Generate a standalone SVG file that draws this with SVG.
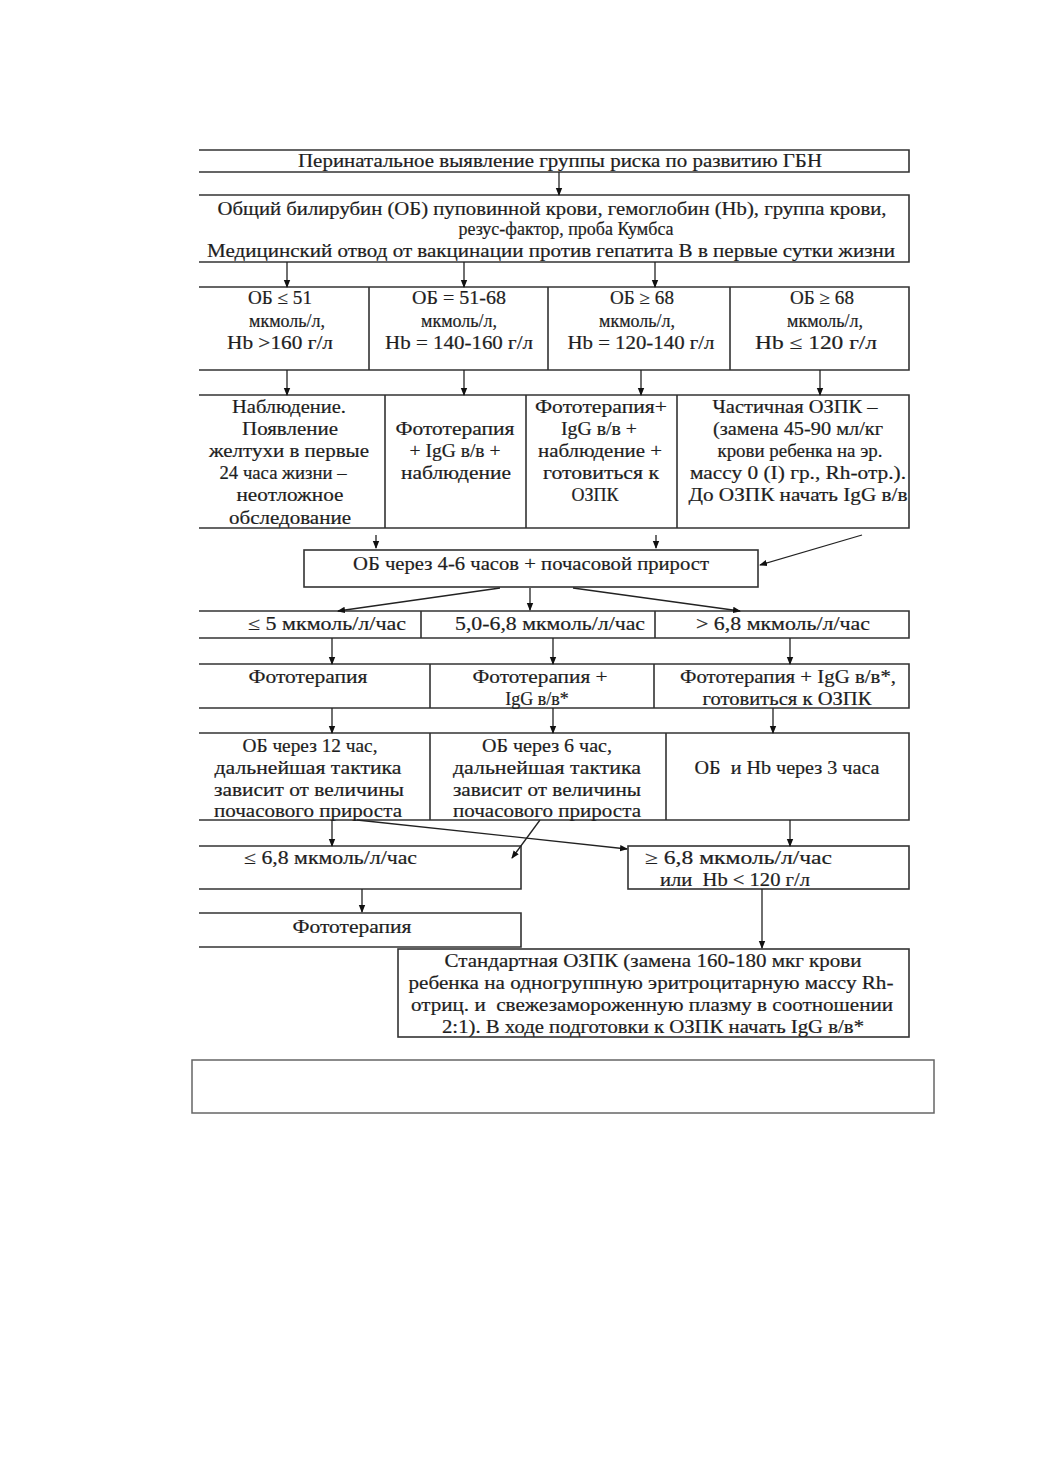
<svg xmlns="http://www.w3.org/2000/svg" width="1041" height="1472" viewBox="0 0 1041 1472">
<style>
.b{fill:none;stroke:#333;stroke-width:1.6}
.t{font-family:"Liberation Serif","DejaVu Serif",serif;font-size:18px;fill:#1e1e1e;stroke:#1e1e1e;stroke-width:0.2;text-anchor:middle;white-space:pre}
.l{text-anchor:start}
.c{fill:none;stroke:#222;stroke-width:1.3}
</style>
<defs>
<marker id="a" markerWidth="8" markerHeight="8" refX="7" refY="4" orient="auto" markerUnits="userSpaceOnUse">
<path d="M0,0.8 L8,4 L0,7.2 Z" fill="#111"/>
</marker>
</defs>
<rect width="1041" height="1472" fill="#fff"/>

<g id="n1">
<path class="b" d="M199,150 H909 V172 H199"/>
<text class="t" x="560" y="167" textLength="524" lengthAdjust="spacingAndGlyphs">Перинатальное выявление группы риска по развитию ГБН</text>
</g>

<g id="n2">
<path class="b" d="M199,195 H909 V262 H199"/>
<text class="t" x="552" y="215" textLength="669" lengthAdjust="spacingAndGlyphs">Общий билирубин (ОБ) пуповинной крови, гемоглобин (Hb), группа крови,</text>
<text class="t" x="566" y="235">резус-фактор, проба Кумбса</text>
<text class="t" x="551" y="257" textLength="688" lengthAdjust="spacingAndGlyphs">Медицинский отвод от вакцинации против гепатита В в первые сутки жизни</text>
</g>

<g id="n3">
<path class="b" d="M199,287 H909 V370 H199 M369,287 V370 M548,287 V370 M730,287 V370"/>
<text class="t" x="280" y="304" textLength="64" lengthAdjust="spacingAndGlyphs">ОБ ≤ 51</text>
<text class="t" x="287" y="327">мкмоль/л,</text>
<text class="t" x="280" y="349" textLength="106" lengthAdjust="spacingAndGlyphs">Hb &gt;160 г/л</text>
<text class="t" x="459" y="304" textLength="94" lengthAdjust="spacingAndGlyphs">ОБ = 51-68</text>
<text class="t" x="459" y="327">мкмоль/л,</text>
<text class="t" x="459" y="349" textLength="148" lengthAdjust="spacingAndGlyphs">Hb = 140-160 г/л</text>
<text class="t" x="642" y="304" textLength="64" lengthAdjust="spacingAndGlyphs">ОБ ≥ 68</text>
<text class="t" x="637" y="327">мкмоль/л,</text>
<text class="t" x="641" y="349" textLength="147" lengthAdjust="spacingAndGlyphs">Hb = 120-140 г/л</text>
<text class="t" x="822" y="304" textLength="64" lengthAdjust="spacingAndGlyphs">ОБ ≥ 68</text>
<text class="t" x="825" y="327">мкмоль/л,</text>
<text class="t" x="816" y="349" textLength="122" lengthAdjust="spacingAndGlyphs">Hb ≤ 120 г/л</text>
</g>

<g id="n4">
<path class="b" d="M199,395 H909 V528 H199 M385,395 V528 M526,395 V528 M677,395 V528"/>
<text class="t" x="289" y="413" textLength="114" lengthAdjust="spacingAndGlyphs">Наблюдение.</text>
<text class="t" x="290" y="435" textLength="96" lengthAdjust="spacingAndGlyphs">Появление</text>
<text class="t" x="289" y="457" textLength="160" lengthAdjust="spacingAndGlyphs">желтухи в первые</text>
<text class="t" x="283" y="479" textLength="127" lengthAdjust="spacingAndGlyphs">24 часа жизни –</text>
<text class="t" x="290" y="501" textLength="107" lengthAdjust="spacingAndGlyphs">неотложное</text>
<text class="t" x="290" y="524" textLength="122" lengthAdjust="spacingAndGlyphs">обследование</text>
<text class="t" x="455" y="435" textLength="119" lengthAdjust="spacingAndGlyphs">Фототерапия</text>
<text class="t" x="455" y="457" textLength="91" lengthAdjust="spacingAndGlyphs">+ IgG в/в +</text>
<text class="t" x="456" y="479" textLength="110" lengthAdjust="spacingAndGlyphs">наблюдение</text>
<text class="t" x="601" y="413" textLength="132" lengthAdjust="spacingAndGlyphs">Фототерапия+</text>
<text class="t" x="599" y="435" textLength="76" lengthAdjust="spacingAndGlyphs">IgG в/в +</text>
<text class="t" x="600" y="457" textLength="124" lengthAdjust="spacingAndGlyphs">наблюдение +</text>
<text class="t" x="601" y="479" textLength="116" lengthAdjust="spacingAndGlyphs">готовиться к</text>
<text class="t" x="595" y="501">ОЗПК</text>
<text class="t" x="795" y="413" textLength="165" lengthAdjust="spacingAndGlyphs">Частичная ОЗПК –</text>
<text class="t" x="798" y="435" textLength="170" lengthAdjust="spacingAndGlyphs">(замена 45-90 мл/кг</text>
<text class="t" x="800" y="457" textLength="165" lengthAdjust="spacingAndGlyphs">крови ребенка на эр.</text>
<text class="t" x="798" y="479" textLength="216" lengthAdjust="spacingAndGlyphs">массу 0 (I) гр., Rh-отр.).</text>
<text class="t" x="798" y="501" textLength="219" lengthAdjust="spacingAndGlyphs">До ОЗПК начать IgG в/в</text>
</g>

<g id="n5">
<rect class="b" x="304" y="550" width="454" height="37"/>
<text class="t" x="531" y="570" textLength="356" lengthAdjust="spacingAndGlyphs">ОБ через 4-6 часов + почасовой прирост</text>
</g>

<g id="n6">
<path class="b" d="M199,611 H909 V638 H199 M421,611 V638 M655,611 V638"/>
<text class="t" x="327" y="630" textLength="158" lengthAdjust="spacingAndGlyphs">≤ 5 мкмоль/л/час</text>
<text class="t" x="550" y="630" textLength="190" lengthAdjust="spacingAndGlyphs">5,0-6,8 мкмоль/л/час</text>
<text class="t" x="783" y="630" textLength="174" lengthAdjust="spacingAndGlyphs">&gt; 6,8 мкмоль/л/час</text>
</g>

<g id="n7">
<path class="b" d="M199,664 H909 V708 H199 M430,664 V708 M654,664 V708"/>
<text class="t" x="308" y="683" textLength="119" lengthAdjust="spacingAndGlyphs">Фототерапия</text>
<text class="t" x="540" y="683" textLength="135" lengthAdjust="spacingAndGlyphs">Фототерапия +</text>
<text class="t" x="537" y="705">IgG в/в*</text>
<text class="t" x="788" y="683" textLength="216" lengthAdjust="spacingAndGlyphs">Фототерапия + IgG в/в*,</text>
<text class="t" x="787" y="705" textLength="169" lengthAdjust="spacingAndGlyphs">готовиться к ОЗПК</text>
</g>

<g id="n8">
<path class="b" d="M199,733 H909 V820 H199 M430,733 V820 M666,733 V820"/>
<text class="t" x="310" y="752" textLength="135" lengthAdjust="spacingAndGlyphs">ОБ через 12 час,</text>
<text class="t" x="308" y="774" textLength="187" lengthAdjust="spacingAndGlyphs">дальнейшая тактика</text>
<text class="t" x="309" y="796" textLength="190" lengthAdjust="spacingAndGlyphs">зависит от величины</text>
<text class="t" x="308" y="817" textLength="188" lengthAdjust="spacingAndGlyphs">почасового прироста</text>
<text class="t" x="547" y="752" textLength="130" lengthAdjust="spacingAndGlyphs">ОБ через 6 час,</text>
<text class="t" x="547" y="774" textLength="188" lengthAdjust="spacingAndGlyphs">дальнейшая тактика</text>
<text class="t" x="547" y="796" textLength="188" lengthAdjust="spacingAndGlyphs">зависит от величины</text>
<text class="t" x="547" y="817" textLength="188" lengthAdjust="spacingAndGlyphs">почасового прироста</text>
<text class="t" x="787" y="774" textLength="185" lengthAdjust="spacingAndGlyphs">ОБ  и Hb через 3 часа</text>
</g>

<g id="n9">
<path class="b" d="M199,846 H521 V889 H199"/>
<text class="t l" x="244" y="864" textLength="173" lengthAdjust="spacingAndGlyphs">≤ 6,8 мкмоль/л/час</text>
</g>

<g id="n10">
<rect class="b" x="628" y="846" width="281" height="43"/>
<text class="t l" x="645" y="864" textLength="187" lengthAdjust="spacingAndGlyphs">≥ 6,8 мкмоль/л/час</text>
<text class="t l" x="660" y="886" textLength="150" lengthAdjust="spacingAndGlyphs">или  Hb &lt; 120 г/л</text>
</g>

<g id="n11">
<path class="b" d="M199,913 H521 V947 H199"/>
<text class="t" x="352" y="933" textLength="119" lengthAdjust="spacingAndGlyphs">Фототерапия</text>
</g>

<g id="n12">
<rect class="b" x="398" y="949" width="511" height="88"/>
<text class="t" x="653" y="967" textLength="417" lengthAdjust="spacingAndGlyphs">Стандартная ОЗПК (замена 160-180 мкг крови</text>
<text class="t" x="651" y="989" textLength="485" lengthAdjust="spacingAndGlyphs">ребенка на одногруппную эритроцитарную массу Rh-</text>
<text class="t" x="652" y="1011" textLength="482" lengthAdjust="spacingAndGlyphs">отриц. и  свежезамороженную плазму в соотношении</text>
<text class="t" x="653" y="1033" textLength="422" lengthAdjust="spacingAndGlyphs">2:1). В ходе подготовки к ОЗПК начать IgG в/в*</text>
</g>

<g id="n13">
<rect x="192" y="1060" width="742" height="53" fill="none" stroke="#666" stroke-width="1.5"/>
</g>

<g id="connectors" class="c">
<path class="c" d="M559,172 V195" marker-end="url(#a)"/>
<path class="c" d="M287,262 V287" marker-end="url(#a)"/>
<path class="c" d="M464,262 V287" marker-end="url(#a)"/>
<path class="c" d="M655,262 V287" marker-end="url(#a)"/>
<path class="c" d="M287,370 V395" marker-end="url(#a)"/>
<path class="c" d="M464,370 V395" marker-end="url(#a)"/>
<path class="c" d="M641,370 V395" marker-end="url(#a)"/>
<path class="c" d="M820,370 V395" marker-end="url(#a)"/>
<path class="c" d="M376,535 V548" marker-end="url(#a)"/>
<path class="c" d="M656,535 V548" marker-end="url(#a)"/>
<path class="c" d="M862,535 L760,565" marker-end="url(#a)"/>
<path class="c" d="M500,588 L338,611" marker-end="url(#a)"/>
<path class="c" d="M530,588 V610" marker-end="url(#a)"/>
<path class="c" d="M573,588 L740,611" marker-end="url(#a)"/>
<path class="c" d="M332,638 V664" marker-end="url(#a)"/>
<path class="c" d="M553,638 V664" marker-end="url(#a)"/>
<path class="c" d="M790,638 V664" marker-end="url(#a)"/>
<path class="c" d="M332,708 V733" marker-end="url(#a)"/>
<path class="c" d="M553,708 V733" marker-end="url(#a)"/>
<path class="c" d="M773,708 V733" marker-end="url(#a)"/>
<path class="c" d="M332,820 V846" marker-end="url(#a)"/>
<path class="c" d="M357,820 L627,849" marker-end="url(#a)"/>
<path class="c" d="M540,820 L512,858" marker-end="url(#a)"/>
<path class="c" d="M790,820 V846" marker-end="url(#a)"/>
<path class="c" d="M362,889 V912" marker-end="url(#a)"/>
<path class="c" d="M762,889 V948" marker-end="url(#a)"/>
</g>
</svg>
